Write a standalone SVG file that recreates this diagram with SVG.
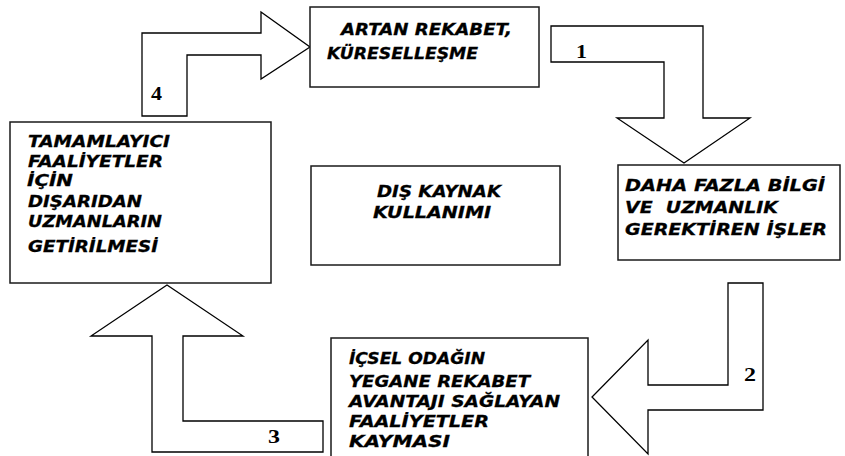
<svg xmlns="http://www.w3.org/2000/svg" width="845" height="456" viewBox="0 0 845 456">
  <style>
    .box { fill: #ffffff; stroke: #1a1a1a; stroke-width: 1.5; }
    .arrow { fill: #ffffff; stroke: #000000; stroke-width: 1.3; stroke-linejoin: miter; }
    .t { font-family: "DejaVu Sans", Verdana, sans-serif; font-weight: bold; font-style: italic; font-size: 16px; fill: #000000; stroke: #000000; stroke-width: 0.3; white-space: pre; }
    .n { font-family: "Liberation Serif", "Times New Roman", serif; font-weight: bold; font-size: 19px; fill: #000000; }
  </style>
  <rect width="845" height="456" fill="#ffffff"/>

  <g id="connectors">
    <g id="arrow1">
      <polygon class="arrow" points="551,26 703,26 703,118 750,118 684,163 617,118 664,118 664,62 551,62"/>
      <text class="n" x="576" y="58" textLength="11" lengthAdjust="spacingAndGlyphs">1</text>
    </g>
    <g id="arrow2">
      <polygon class="arrow" points="728,283 763,283 763,410 648,410 648,454 592,397 648,340 648,385 728,385"/>
      <text class="n" x="744" y="381" textLength="12" lengthAdjust="spacingAndGlyphs">2</text>
    </g>
    <g id="arrow3">
      <polygon class="arrow" points="167,285 243,336 183,336 183,421 323,421 323,452 152,452 152,336 91,336"/>
      <text class="n" x="268" y="443" textLength="12" lengthAdjust="spacingAndGlyphs">3</text>
    </g>
    <g id="arrow4">
      <polygon class="arrow" points="142,116 142,33 261,33 261,12 310,47 261,79 261,55 187,55 187,116"/>
      <text class="n" x="151" y="100" textLength="11" lengthAdjust="spacingAndGlyphs">4</text>
    </g>
  </g>

  <g id="node-rekabet">
    <rect class="box" x="310" y="7" width="229" height="80"/>
    <text class="t" x="341" y="35" textLength="171" lengthAdjust="spacingAndGlyphs">ARTAN REKABET,</text>
    <text class="t" x="327" y="59" textLength="151" lengthAdjust="spacingAndGlyphs">K&#220;RESELLE&#350;ME</text>
  </g>

  <g id="node-bilgi">
    <rect class="box" x="618" y="165" width="222" height="95"/>
    <text class="t" x="625" y="191" textLength="200" lengthAdjust="spacingAndGlyphs">DAHA FAZLA B&#304;LG&#304;</text>
    <text class="t" x="625" y="213" textLength="153" lengthAdjust="spacingAndGlyphs">VE  UZMANLIK</text>
    <text class="t" x="625" y="235" textLength="202" lengthAdjust="spacingAndGlyphs">GEREKT&#304;REN &#304;&#350;LER</text>
  </g>

  <g id="node-icsel">
    <rect class="box" x="331" y="338" width="257" height="130"/>
    <text class="t" x="349" y="364" textLength="136" lengthAdjust="spacingAndGlyphs">&#304;&#199;SEL ODA&#286;IN</text>
    <text class="t" x="349" y="387" textLength="181" lengthAdjust="spacingAndGlyphs">YEGANE REKABET</text>
    <text class="t" x="349" y="407" textLength="211" lengthAdjust="spacingAndGlyphs">AVANTAJI SA&#286;LAYAN</text>
    <text class="t" x="349" y="427" textLength="140" lengthAdjust="spacingAndGlyphs">FAAL&#304;YETLER</text>
    <text class="t" x="349" y="447" textLength="101" lengthAdjust="spacingAndGlyphs">KAYMASI</text>
  </g>

  <g id="node-tamamlayici">
    <rect class="box" x="10" y="122" width="261" height="161"/>
    <text class="t" x="28" y="147" textLength="142" lengthAdjust="spacingAndGlyphs">TAMAMLAYICI</text>
    <text class="t" x="28" y="167" textLength="135" lengthAdjust="spacingAndGlyphs">FAAL&#304;YETLER</text>
    <text class="t" x="27" y="186" textLength="46" lengthAdjust="spacingAndGlyphs">&#304;&#199;&#304;N</text>
    <text class="t" x="28" y="207" textLength="114" lengthAdjust="spacingAndGlyphs">DI&#350;ARIDAN</text>
    <text class="t" x="28" y="227" textLength="134" lengthAdjust="spacingAndGlyphs">UZMANLARIN</text>
    <text class="t" x="28" y="252" textLength="130" lengthAdjust="spacingAndGlyphs">GET&#304;R&#304;LMES&#304;</text>
  </g>

  <g id="node-dis-kaynak">
    <rect class="box" x="311" y="166" width="249" height="99"/>
    <text class="t" x="377" y="197" textLength="124" lengthAdjust="spacingAndGlyphs">DI&#350; KAYNAK</text>
    <text class="t" x="373" y="218" textLength="118" lengthAdjust="spacingAndGlyphs">KULLANIMI</text>
  </g>
</svg>
